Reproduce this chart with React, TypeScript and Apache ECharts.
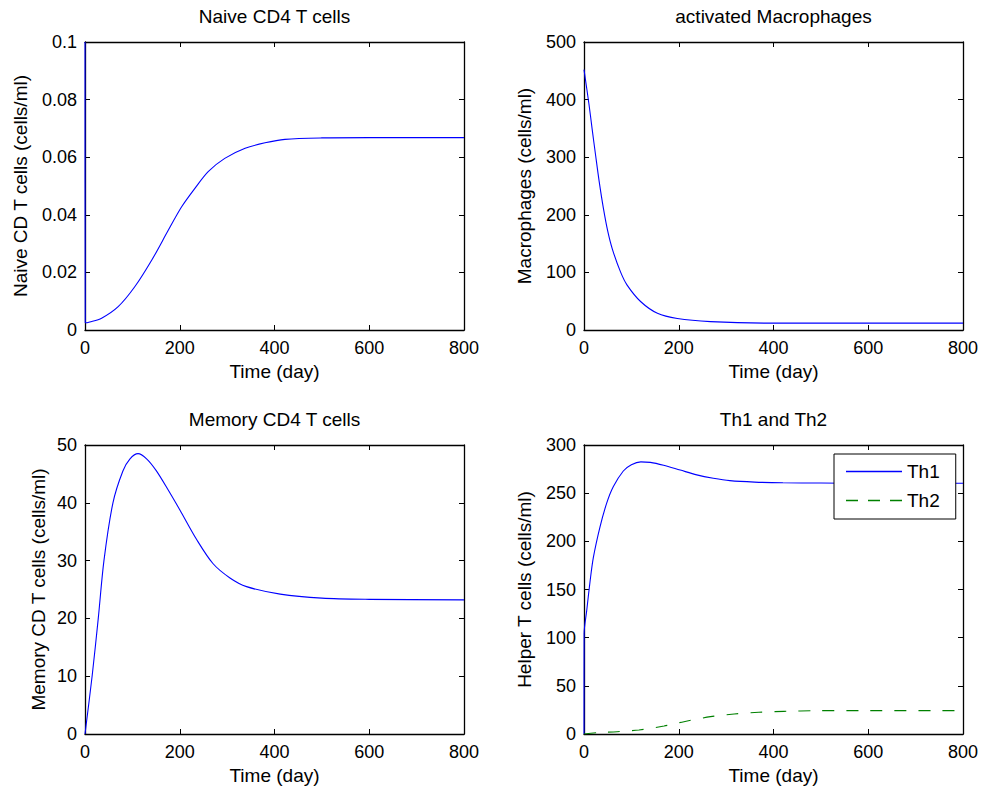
import React, { useEffect, useRef } from "react";
import * as echarts from "echarts";

// ---- Data ----
const xTicks = [0, 200, 400, 600, 800];

const naiveDays = [0, 0.5, 10, 35, 70, 105, 141, 176, 204, 232, 260, 295, 338, 380, 422, 500, 600, 700, 800];
const naiveValues = [0.1, 0.0025, 0.0028, 0.0041, 0.0081, 0.015, 0.0243, 0.0347, 0.0428, 0.0492, 0.055, 0.0596, 0.0631, 0.065, 0.0662, 0.0667, 0.0668, 0.0668, 0.0668];

const macroDays = [0, 10.5, 17, 24.7, 32, 40.8, 50, 60, 77.5, 91, 120, 155, 197, 267, 380, 500, 800];
const macroValues = [452, 392, 350, 302, 258, 212, 172, 140, 100, 78, 49, 29, 20, 14.5, 12, 12, 12];

const memoryDays = [0, 15, 28, 40, 59, 80, 95, 112, 130, 150, 175, 200, 236, 270, 306, 341, 412, 500, 600, 800];
const memoryValues = [0, 10, 20, 30, 40, 45.5, 47.6, 48.5, 47.6, 45.6, 42.3, 38.8, 33.6, 29.5, 27, 25.5, 24.2, 23.5, 23.3, 23.2];

const th1Days = [0, 0.2, 5.7, 12.7, 19.7, 33.8, 47.9, 62, 83, 100, 120, 140, 168, 203, 238, 273, 308, 360, 420, 500, 600, 800];
const th1Values = [0, 104, 128, 158, 183, 215, 239.6, 256.8, 273, 279.5, 282.5, 282, 279, 274, 269, 265.5, 263, 261.5, 260.8, 260.5, 260.3, 260.3];

const th2Days = [0, 28, 70, 116, 169, 211, 267, 317, 369, 422, 492, 600, 800];
const th2Values = [0, 1.4, 2.4, 4.2, 8.3, 12.8, 18, 20.8, 22.5, 23.5, 24.2, 24.3, 24.3];

const panelTitles = ["Naive CD4 T cells", "activated Macrophages", "Memory CD4 T cells", "Th1 and Th2"];
const yNames = ["Naive CD T cells (cells/ml)", "Macrophages (cells/ml)", "Memory CD T cells (cells/ml)", "Helper T cells (cells/ml)"];
const yMax = [0.1, 500, 50, 300];
const yInterval = [0.02, 100, 10, 50];
const xName = "Time (day)";
const legendNames = ["Th1", "Th2"];
const lineColors = ["#0000ff", "#008000"];

const FONT = "'Liberation Sans', Arial, Helvetica, sans-serif";

const pairs = (xs: number[], ys: number[]) => xs.map((x, i) => [x, ys[i]]);

export default function App() {
  const ref = useRef<HTMLDivElement>(null);

  useEffect(() => {
    if (!ref.current) return;
    const chart = echarts.init(ref.current, undefined, { renderer: "svg" });

    const grids = [
      { left: 85, top: 42, width: 379, height: 288 },
      { left: 584, top: 42, width: 379, height: 288 },
      { left: 85, top: 445, width: 379, height: 289 },
      { left: 584, top: 445, width: 379, height: 289 },
    ];
    const yNameGaps = [55, 50, 37, 50];

    const axisLine = { show: true, onZero: false, lineStyle: { color: "#000", width: 1.3 } };
    const tick = { show: true, inside: true, length: 5, lineStyle: { color: "#000", width: 1 } };

    const xAxes: any[] = [];
    const yAxes: any[] = [];
    grids.forEach((g, i) => {
      xAxes.push({
        type: "value", gridIndex: i, position: "bottom", min: xTicks[0], max: xTicks[xTicks.length - 1], interval: xTicks[1] - xTicks[0],
        axisLine, axisTick: tick, splitLine: { show: false },
        axisLabel: { color: "#000", fontSize: 18, fontFamily: FONT, margin: 9 },
        name: xName, nameLocation: "middle", nameGap: 32,
        nameTextStyle: { color: "#000", fontSize: 19, fontFamily: FONT },
      });
      xAxes.push({
        type: "value", gridIndex: i, position: "top", min: xTicks[0], max: xTicks[xTicks.length - 1], interval: xTicks[1] - xTicks[0],
        axisLine, axisTick: tick, splitLine: { show: false }, axisLabel: { show: false },
      });
      yAxes.push({
        type: "value", gridIndex: i, position: "left", min: 0, max: yMax[i], interval: yInterval[i],
        axisLine, axisTick: tick, splitLine: { show: false },
        axisLabel: { color: "#000", fontSize: 18, fontFamily: FONT, margin: 8 },
        name: yNames[i], nameLocation: "middle", nameGap: yNameGaps[i],
        nameTextStyle: { color: "#000", fontSize: 19, fontFamily: FONT },
      });
      yAxes.push({
        type: "value", gridIndex: i, position: "right", min: 0, max: yMax[i], interval: yInterval[i],
        axisLine, axisTick: tick, splitLine: { show: false }, axisLabel: { show: false },
      });
    });

    const lineBase = { type: "line", symbol: "none", showSymbol: false, clip: true, smooth: 0.3 };

    const series: any[] = [
      { ...lineBase, name: "naive", xAxisIndex: 0, yAxisIndex: 0, data: pairs(naiveDays, naiveValues), lineStyle: { color: lineColors[0], width: 1.1 } },
      { ...lineBase, name: "macro", xAxisIndex: 2, yAxisIndex: 2, data: pairs(macroDays, macroValues), lineStyle: { color: lineColors[0], width: 1.1 } },
      { ...lineBase, name: "memory", xAxisIndex: 4, yAxisIndex: 4, data: pairs(memoryDays, memoryValues), lineStyle: { color: lineColors[0], width: 1.1 } },
      { ...lineBase, name: legendNames[0], xAxisIndex: 6, yAxisIndex: 6, data: pairs(th1Days, th1Values), itemStyle: { color: lineColors[0] }, lineStyle: { color: lineColors[0], width: 1.1 } },
      { ...lineBase, name: legendNames[1], xAxisIndex: 6, yAxisIndex: 6, data: pairs(th2Days, th2Values), itemStyle: { color: lineColors[1] }, lineStyle: { color: lineColors[1], width: 1.1, type: [12, 12] } },
    ];

    const titles = grids.map((g, i) => ({
      type: "text",
      x: g.left + g.width / 2,
      y: g.top - 35,
      style: { text: panelTitles[i], textAlign: "center", textVerticalAlign: "top", font: `19px ${FONT}`, fill: "#000" },
    }));

    chart.setOption({
      animation: false,
      backgroundColor: "#fff",
      grid: grids,
      xAxis: xAxes,
      yAxis: yAxes,
      series,
      graphic: titles,
      legend: {
        data: [
          { name: legendNames[0], icon: "path://M0,0h56v1.3h-56z", itemStyle: { color: lineColors[0] } },
          { name: legendNames[1], icon: "path://M0,0h12v1.3h-12z M22,0h12v1.3h-12z M44,0h12v1.3h-12z", itemStyle: { color: lineColors[1] } },
        ],
        orient: "vertical",
        left: 834,
        top: 454,
        backgroundColor: "#fff",
        borderColor: "#000",
        borderWidth: 1,
        padding: [8, 16, 9, 12],
        itemWidth: 56,
        itemHeight: 14,
        itemGap: 10,
        selectedMode: false,
        textStyle: { color: "#000", fontSize: 19, fontFamily: FONT },
      },
    });

    return () => chart.dispose();
  }, []);

  return <div ref={ref} style={{ position: "fixed", left: 0, top: 0, width: 985, height: 790 }} />;
}
